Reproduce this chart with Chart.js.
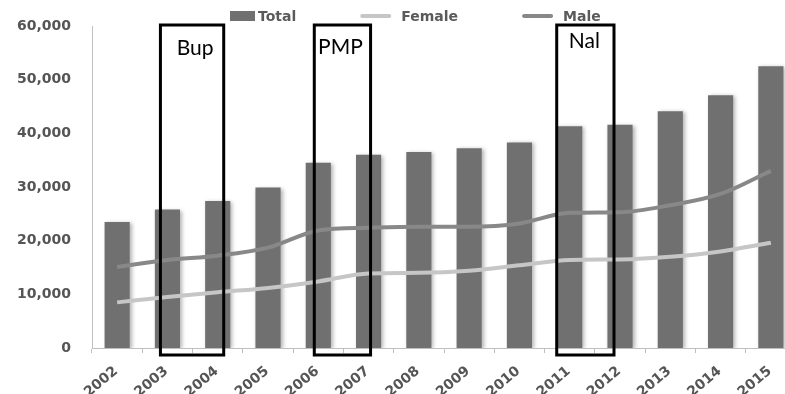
<!doctype html>
<html lang="en">
  <head>
    <meta charset="utf-8">
    <style>
      * {
        margin: 0;
        padding: 0;
      }
      body {
        background: #fff;
        overflow: hidden;
      }
      .chartBox {
        width: 800px;
        height: 394px;
      }
    </style>
  </head>
  <body>
    <div class="chartBox">
      <canvas id="myChart"></canvas>
    </div>
    <script src="https://cdn.jsdelivr.net/npm/chart.js/dist/chart.umd.min.js"></script>
    <script>
    // data
    const years = ['2002', '2003', '2004', '2005', '2006', '2007', '2008',
                   '2009', '2010', '2011', '2012', '2013', '2014', '2015'];
    const total = [23500, 25800, 27400, 29900, 34500, 36000, 36500,
                   37200, 38300, 41300, 41600, 44100, 47100, 52500];
    const female = [8500, 9500, 10400, 11200, 12400, 13900, 14000,
                    14400, 15400, 16400, 16500, 17000, 18000, 19600];
    const male = [15100, 16400, 17200, 18700, 21900, 22400, 22600,
                  22600, 23200, 25200, 25300, 26600, 28700, 33000];

    // drug approval boxes
    const noteLabels = ['Bup', 'PMP', 'Nal'];
    const noteStart = ['2003', '2006', '2011'];
    const noteEnd = ['2004', '2007', '2012'];

    const tickFont = { family: 'DejaVu Sans', size: 14, weight: 'bold' };

    // soft shadow behind the bars
    const barShadow = {
      id: 'barShadow',
      beforeDatasetDraw(chart, args) {
        if (args.meta.type !== 'bar') return;
        const ctx = chart.ctx;
        ctx.save();
        ctx.shadowColor = 'rgba(0, 0, 0, 0.3)';
        ctx.shadowBlur = 4;
        ctx.shadowOffsetX = 2;
        ctx.shadowOffsetY = 1;
      },
      afterDatasetDraw(chart, args) {
        if (args.meta.type !== 'bar') return;
        chart.ctx.restore();
      }
    };

    // legend row across the top
    const topLegend = {
      id: 'topLegend',
      afterDraw(chart) {
        const { ctx, data } = chart;
        const y = 16;
        let x = 230;
        ctx.save();
        ctx.font = 'bold 14px "DejaVu Sans"';
        ctx.textBaseline = 'middle';
        ctx.textAlign = 'left';
        data.datasets.forEach((ds) => {
          if (ds.type === 'line') {
            ctx.beginPath();
            ctx.strokeStyle = ds.borderColor;
            ctx.lineWidth = 4;
            ctx.lineCap = 'round';
            ctx.moveTo(x + 1, y);
            ctx.lineTo(x + 28, y);
            ctx.stroke();
            x += 29 + 11;
          } else {
            ctx.fillStyle = ds.backgroundColor;
            ctx.fillRect(x, y - 5, 25, 10);
            x += 25 + 3;
          }
          ctx.fillStyle = '#5a5a5a';
          ctx.fillText(ds.label, x, y + 1);
          x += ctx.measureText(ds.label).width + 65;
        });
        ctx.restore();
      }
    };

    // outlined boxes with drug names
    const noteBoxes = {
      id: 'noteBoxes',
      afterDatasetsDraw(chart, args, opts) {
        const { ctx, chartArea: { bottom }, scales: { x, y } } = chart;
        ctx.save();
        ctx.strokeStyle = '#000';
        ctx.lineWidth = 3;
        ctx.font = '21px Lato';
        ctx.fillStyle = '#000';
        ctx.textAlign = 'center';
        ctx.textBaseline = 'middle';
        noteLabels.forEach((label, i) => {
          const left = x.getPixelForValue(years.indexOf(noteStart[i])) + opts.nudge[i][0];
          const right = x.getPixelForValue(years.indexOf(noteEnd[i])) + opts.nudge[i][1];
          const top = y.getPixelForValue(60000) - 1;
          const bot = bottom + 7;
          ctx.strokeRect(left, top, right - left, bot - top);
          ctx.fillText(label, (left + right) / 2 + opts.nudge[i][2], top + opts.nudge[i][3]);
        });
        ctx.restore();
      }
    };

    const data = {
      labels: years,
      datasets: [
        {
          type: 'bar',
          label: 'Total',
          data: total,
          backgroundColor: '#707070',
          barPercentage: 0.5,
          categoryPercentage: 1,
          order: 2
        },
        {
          type: 'line',
          label: 'Female',
          data: female,
          borderColor: '#c6c6c6',
          borderWidth: 4,
          pointRadius: 0,
          cubicInterpolationMode: 'monotone',
          order: 1
        },
        {
          type: 'line',
          label: 'Male',
          data: male,
          borderColor: '#888888',
          borderWidth: 4,
          pointRadius: 0,
          cubicInterpolationMode: 'monotone',
          order: 0
        }
      ]
    };

    const config = {
      type: 'bar',
      data,
      options: {
        responsive: true,
        maintainAspectRatio: false,
        animation: false,
        layout: {
          padding: { top: 26, right: 4, bottom: 0, left: 0 }
        },
        scales: {
          x: {
            offset: true,
            grid: {
              offset: true,
              drawOnChartArea: false,
              color: '#bfbfbf',
              tickLength: 5
            },
            border: { color: '#bfbfbf' },
            ticks: {
              color: '#555',
              font: tickFont,
              minRotation: 40,
              maxRotation: 40,
              padding: 10,
              labelOffset: -1
            },
            afterFit(scale) {
              scale.height = 46;
            }
          },
          y: {
            min: 0,
            max: 60000,
            grid: { display: false, drawTicks: false },
            border: { display: true, color: '#bfbfbf' },
            ticks: {
              stepSize: 10000,
              color: '#555',
              font: tickFont,
              padding: 21
            },
            afterFit(scale) {
              scale.width = 92;
              // keep the label gap from pushing the plot top down
              scale.paddingTop = 0;
              scale.paddingBottom = 0;
            }
          }
        },
        plugins: {
          legend: { display: false },
          tooltip: { enabled: false },
          noteBoxes: {
            // left edge, right edge, text dx, text dy
            nudge: [[-7, 6, 3, 23], [-4, 2, -2, 22], [-13, -6, -1, 16]]
          }
        }
      },
      plugins: [barShadow, noteBoxes, topLegend]
    };

    const myChart = new Chart(document.getElementById('myChart'), config);
    </script>
  </body>
</html>
